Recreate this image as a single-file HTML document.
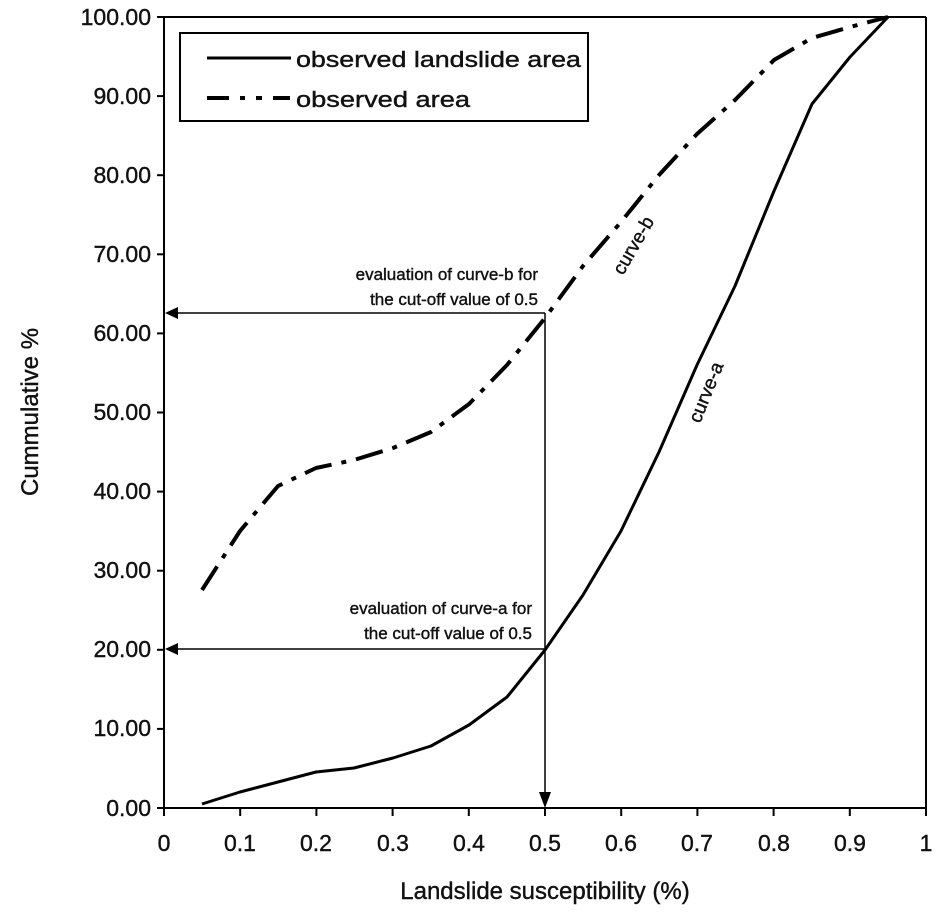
<!DOCTYPE html>
<html><head><meta charset="utf-8"><style>
html,body{margin:0;padding:0;background:#fff;}
svg{display:block;}
text{font-family:"Liberation Sans",Arial,sans-serif;fill:#111;stroke:#111;stroke-width:0.4;}
</style></head><body>
<svg width="941" height="921" viewBox="0 0 941 921" xmlns="http://www.w3.org/2000/svg">
<line x1="164" y1="17" x2="164" y2="808" stroke="#000" stroke-width="2"/>
<line x1="164" y1="808" x2="926" y2="808" stroke="#000" stroke-width="2"/>
<line x1="164" y1="17" x2="926" y2="17" stroke="#000" stroke-width="2"/>
<line x1="926" y1="17" x2="926" y2="808" stroke="#000" stroke-width="2"/>
<g stroke="#000" stroke-width="2">
<line x1="157" y1="17" x2="164" y2="17"/><line x1="157" y1="96.1" x2="164" y2="96.1"/>
<line x1="157" y1="175.2" x2="164" y2="175.2"/><line x1="157" y1="254.3" x2="164" y2="254.3"/>
<line x1="157" y1="333.4" x2="164" y2="333.4"/><line x1="157" y1="412.5" x2="164" y2="412.5"/>
<line x1="157" y1="491.6" x2="164" y2="491.6"/><line x1="157" y1="570.7" x2="164" y2="570.7"/>
<line x1="157" y1="649.8" x2="164" y2="649.8"/><line x1="157" y1="728.9" x2="164" y2="728.9"/>
<line x1="157" y1="808" x2="164" y2="808"/>
<line x1="164" y1="808" x2="164" y2="816"/><line x1="240.2" y1="808" x2="240.2" y2="816"/>
<line x1="316.4" y1="808" x2="316.4" y2="816"/><line x1="392.6" y1="808" x2="392.6" y2="816"/>
<line x1="468.8" y1="808" x2="468.8" y2="816"/><line x1="545" y1="808" x2="545" y2="816"/>
<line x1="621.2" y1="808" x2="621.2" y2="816"/><line x1="697.4" y1="808" x2="697.4" y2="816"/>
<line x1="773.6" y1="808" x2="773.6" y2="816"/><line x1="849.8" y1="808" x2="849.8" y2="816"/>
<line x1="926" y1="808" x2="926" y2="816"/>
</g>
<g font-size="23" text-anchor="end">
<text x="151" y="25">100.00</text><text x="151" y="104">90.00</text>
<text x="151" y="183">80.00</text><text x="151" y="262">70.00</text>
<text x="151" y="341">60.00</text><text x="151" y="420">50.00</text>
<text x="151" y="499">40.00</text><text x="151" y="578">30.00</text>
<text x="151" y="657">20.00</text><text x="151" y="736">10.00</text>
<text x="151" y="816">0.00</text>
</g>
<g font-size="23" text-anchor="middle">
<text x="164" y="851">0</text><text x="240" y="851">0.1</text><text x="316" y="851">0.2</text>
<text x="393" y="851">0.3</text><text x="469" y="851">0.4</text><text x="545" y="851">0.5</text>
<text x="621" y="851">0.6</text><text x="697" y="851">0.7</text><text x="774" y="851">0.8</text>
<text x="850" y="851">0.9</text><text x="926" y="851">1</text>
</g>
<text x="545" y="899" font-size="24" text-anchor="middle">Landslide susceptibility (%)</text>
<text transform="translate(38,412) rotate(-90)" font-size="24" text-anchor="middle">Cummulative %</text>
<rect x="180" y="33" width="408" height="88" fill="#fff" stroke="#000" stroke-width="2"/>
<line x1="207" y1="58" x2="291" y2="58" stroke="#000" stroke-width="3"/>
<text x="296" y="67" font-size="22" textLength="285" lengthAdjust="spacingAndGlyphs">observed landslide area</text>
<path d="M207 98 H229 M240 98 H245 M256 98 H262 M273 98 H290" stroke="#000" stroke-width="4"/>
<text x="296" y="107" font-size="22" textLength="174" lengthAdjust="spacingAndGlyphs">observed area</text>
<polyline points="202,804 240,792 278,782 316,772 354,768 393,758 431,746 469,725 507,697 545,650 583,595 621,531 659,452 697,365 735,286 774,191 812,104 850,57 888,17" fill="none" stroke="#000" stroke-width="3" stroke-linejoin="round"/>
<polyline points="202,590 240,531 278,486 316,468 354,460 393,448 431,432 469,404 507,365 545,318 583,266 621,222 659,175 697,134 735,100 774,60 812,38 850,27 888,17" fill="none" stroke="#000" stroke-width="4" stroke-linejoin="round" stroke-dasharray="28,10,5,10"/>
<line x1="545" y1="313" x2="545" y2="795" stroke="#000" stroke-width="1.5"/>
<polygon points="539,792 551,792 545,808" fill="#000"/>
<line x1="176" y1="313" x2="545" y2="313" stroke="#000" stroke-width="1.5"/>
<polygon points="165,313 178,307 178,319" fill="#000"/>
<line x1="176" y1="649" x2="545" y2="649" stroke="#000" stroke-width="1.5"/>
<polygon points="165,649 178,643 178,655" fill="#000"/>
<g font-size="17" text-anchor="end">
<text x="538" y="280">evaluation of curve-b for</text>
<text x="538" y="305">the cut-off value of 0.5</text>
<text x="532" y="614">evaluation of curve-a for</text>
<text x="532" y="639">the cut-off value of 0.5</text>
</g>
<text transform="translate(623,276) rotate(-60)" font-size="19">curve-b</text>
<text transform="translate(700,424) rotate(-68)" font-size="19">curve-a</text>
</svg>
</body></html>
